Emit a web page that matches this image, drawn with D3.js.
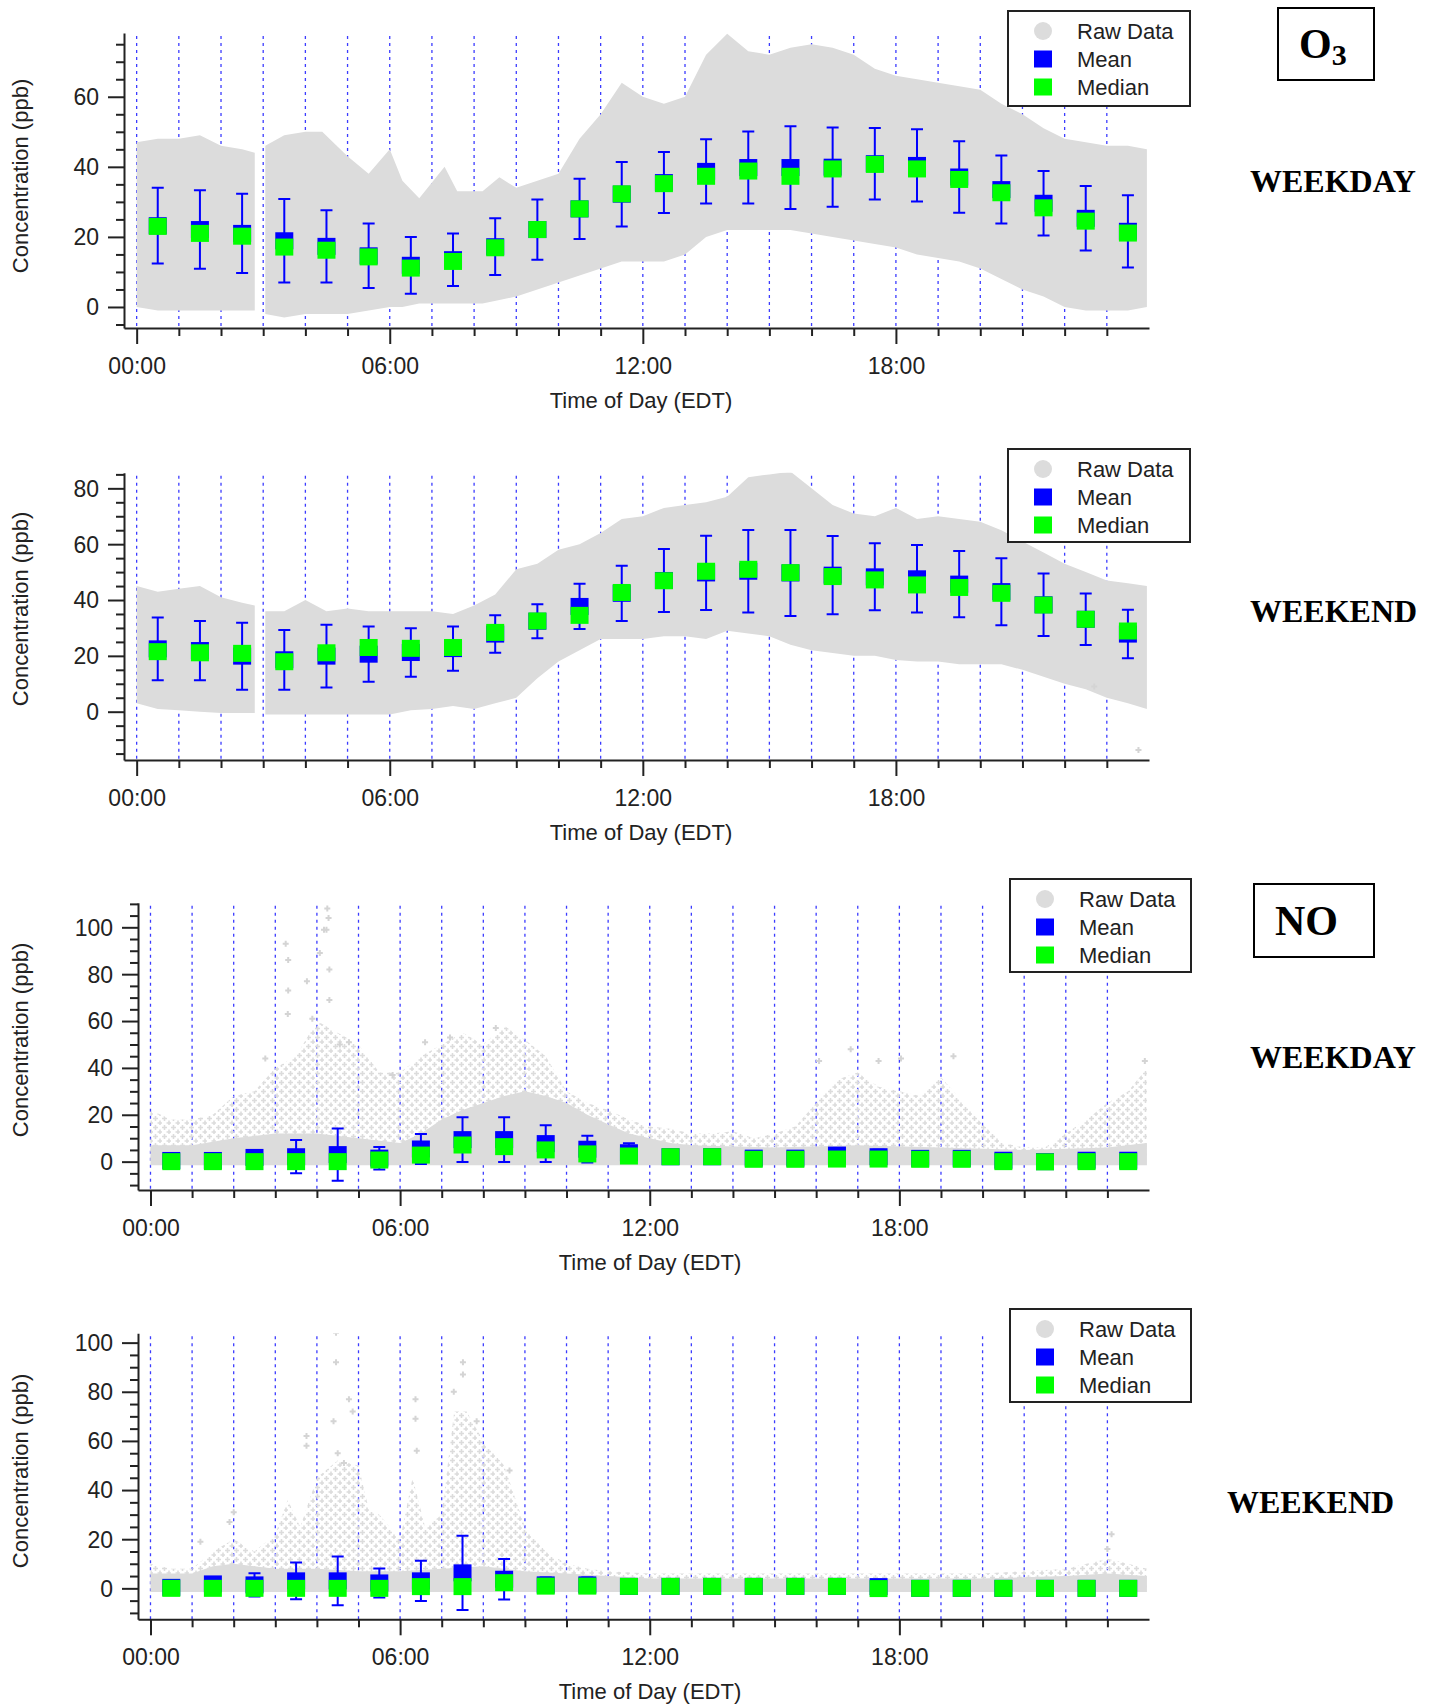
<!DOCTYPE html>
<html>
<head>
<meta charset="utf-8">
<script src="https://cdn.jsdelivr.net/npm/d3@7"></script>
<style>
  body { margin: 0; background: #fff; }
  svg { display: block; font-family: "Liberation Sans", Arial, sans-serif; }
</style>
</head>
<body>
<svg id="chart" width="1434" height="1705"></svg>
<script>
// ---- categories / ticks ----
const boxHours   = [0.5,1.5,2.5,3.5,4.5,5.5,6.5,7.5,8.5,9.5,10.5,11.5,12.5,13.5,14.5,15.5,16.5,17.5,18.5,19.5,20.5,21.5,22.5,23.5];
const hourTicks  = [0,1,2,3,4,5,6,7,8,9,10,11,12,13,14,15,16,17,18,19,20,21,22,23];
const majorHours = [0,6,12,18];
const hourLabels = ["00:00","06:00","12:00","18:00"];

// ---- O3 weekday ----
const o3WdMean   = [23.2,22.1,21.0,18.9,17.3,14.6,11.9,13.5,17.2,22.1,28.0,32.2,35.5,38.7,39.8,39.8,39.9,40.9,40.4,37.1,33.5,29.6,25.3,21.6];
const o3WdMedian = [23.0,21.0,20.2,17.1,16.2,14.3,11.1,13.0,16.9,22.1,28.0,32.3,35.2,37.3,38.8,37.3,39.4,40.7,39.4,36.4,32.6,28.3,24.5,21.1];
const o3WdSd     = [10.8,11.2,11.3,11.9,10.3,9.2,8.1,7.5,8.1,8.6,8.6,9.2,8.7,9.2,10.3,11.8,11.3,10.2,10.3,10.2,9.7,9.2,9.2,10.3];
const o3WdRawT   = [0,0.5,1,1.5,2,2.5,2.8,2.9,3.05,3.5,4,4.4,5,5.5,6,6.3,6.7,7.3,7.6,8.2,8.6,9,9.5,10,10.5,11,11.5,12,12.5,13,13.5,14,14.5,15,15.5,16,16.5,17,17.5,18,18.5,19,19.5,20,20.5,21,21.5,22,22.5,23,23.5,23.95];
const o3WdRawHi  = [47,48,48,49,46,45,44,null,46,49,50,50,43,38,45,36,31,40,33,33,37,34,36,38,48,55,64,60,58,60,72,78,73,72,74,75,74,72,68,66,65,64,63,62,58,55,51,48,47,46,46,45];
const o3WdRawLo  = [0,-1,-1,-1,-1,-1,-1,null,-2,-3,-2,-2,-2,-1,0,0,1,1,1,1,2,3,5,7,9,11,13,13,13,15,20,22,22,22,22,21,20,19,18,17,15,14,13,11,8,5,3,0,-1,-1,-1,0];
const o3WdOutliers = [];

// ---- O3 weekend ----
const o3WeMean   = [22.5,21.9,19.9,18.6,19.9,20.6,21.2,22.6,27.8,32.4,37.7,42.4,47.0,49.7,50.3,49.7,48.9,48.3,47.6,45.7,43.0,38.3,33.1,27.8];
const o3WeMedian = [21.5,21.1,20.9,17.9,21.1,23.0,22.7,23.0,28.4,32.5,34.5,42.7,46.9,50.3,51.0,49.8,48.4,47.2,45.4,44.5,42.4,38.2,33.1,28.9];
const o3WeSd     = [11.2,10.6,12.0,10.7,11.2,9.9,8.7,7.9,6.7,6.1,8.1,9.9,11.3,13.3,14.8,15.4,14.0,12.0,12.1,11.9,12.0,11.2,9.2,8.7];
const o3WeRawT   = [0,0.5,1,1.5,2,2.5,2.8,2.9,3.05,3.5,4,4.5,5,5.5,6,6.5,7,7.5,8,8.5,9,9.5,10,10.5,11,11.5,12,12.5,13,13.5,14,14.5,15,15.5,16,16.5,17,17.5,18,18.5,19,19.5,20,20.5,21,21.5,22,22.5,23,23.5,23.95];
const o3WeRawHi  = [45,43,44,45,41,39,38,null,36,36,40,36,37,36,36,36,36,35,38,42,51,53,58,60,64,69,70,73,74,75,77,84,85,86,80,74,71,70,73,69,70,69,68,65,61,57,53,50,47,46,45];
const o3WeRawLo  = [3,1,0.5,0,-0.5,-0.5,-0.5,null,-1,-1,-1,-1,-1,-1,-1,0.5,1,2,1,3,5,12,18,22,26,26,26,27,27,26,29,28,27,24,22,21,20,20,18.5,18,18,17,17,17,15,12.5,10,8,5,3,1];
const o3WeOutliers = [[23.75,-13.7],[22.7,9]];

// ---- NO weekday ----
const noWdMean   = [0.5,0.5,1.8,2.1,3.0,1.5,5.4,9.4,9.4,7.7,5.3,3.8,2.1,2.1,1.5,1.5,2.8,2.1,1.4,1.4,0.6,0.0,0.6,0.6];
const noWdMedian = [0.0,0.0,0.0,0.0,0.0,0.7,2.8,7.1,6.4,5.0,3.3,2.4,2.1,2.1,1.0,1.0,1.1,1.1,1.0,1.0,0.0,-0.1,0.0,0.0];
const noWdSd     = [2,2,3,7.1,11.1,4.8,6.4,9.5,9.5,7.8,5.7,4.0,2,2,2.5,2.5,3,3,2.5,2.5,2,2,2,2];
const noWdDenseT  = [0,1,2,3,4,5,6,6.5,7,7.5,8,8.5,9,9.5,10,10.5,11,11.5,12,12.5,13,15,17,19,21,23,23.95];
const noWdDenseHi = [7,7,10,12,12,10,8,12,18,22,25,28,30,28,25,20,16,12,10,8,7,6,7,6,5,6,8];
const noWdSparseT  = [0,0.5,1,1.5,2,2.5,3,3.5,4,4.5,5,5.5,6,6.5,7,7.5,8,8.5,9,9.5,10,10.5,11,11.5,12,12.5,13,13.5,14,14.5,15,15.5,16,16.5,17,17.5,18,18.5,19,19.5,20,20.5,21,21.5,22,22.5,23,23.5,23.95];
const noWdSparseHi = [22,18,18,20,28,30,40,45,60,55,50,38,38,45,50,55,50,58,52,45,30,25,22,18,15,14,12,12,13,10,12,15,25,35,38,32,30,28,36,26,16,8,6,6,12,18,25,30,40];
const noWdOutliers = [[3.25,93],[3.31,86],[3.31,73],[3.3,63],[3.76,77],[3.89,61],[4.07,89],[4.17,99],[4.23,99],[4.25,108],[4.28,104],[4.3,82],[4.3,69],[4.55,50],[4.77,51],[2.76,44],[5.82,37],[6.6,51],[7.2,53],[8.3,57],[16.07,43],[16.83,48],[17.5,43],[18.04,44],[19.3,45],[23.9,43]];

// ---- NO weekend ----
const noWeMean   = [0.4,1.8,1.4,3.05,3.05,2.2,3.05,6.3,3.7,1.4,1.4,0.8,0.8,0.8,0.8,0.8,0.8,0.7,0.0,0.0,0.0,0.0,0.0,0.0];
const noWeMedian = [0.0,0.0,0.0,0.0,0.0,0.0,0.7,0.7,2.3,0.9,0.9,0.8,0.8,0.8,0.8,0.8,0.8,-0.1,0.0,0.0,0.0,0.0,0.0,0.0];
const noWeSd     = [2,2.5,4.7,7.5,9.9,5.9,8.2,15.1,8.2,3,3,2,2,2,2,2,2,2,2,2,2,2,2,2];
const noWeDenseT  = [0,1,1.5,2,2.5,3,4,5,6,7,8,9,10,11,12,14,16,18,20,22,23,23.95];
const noWeDenseHi = [6,6,9,10,9,8,8,7,7,8,9,7,6,5,4,4,4,4,4,5,6,5];
const noWeSparseT  = [0,0.5,1,1.5,2,2.5,3,3.3,3.6,4,4.5,5,5.25,5.5,6,6.3,6.6,7,7.3,7.6,8,8.5,9,9.5,10,10.5,11,12,14,16,18,20,21,22,22.5,23,23.5,23.95];
const noWeSparseHi = [10,8,8,15,20,15,22,36,25,45,52,50,32,30,20,45,25,30,72,72,60,50,25,15,10,8,7,6,6,6,6,6,7,8,10,12,10,8];
const noWeOutliers = [[4.46,104],[4.46,92],[4.77,77],[4.86,72],[4.4,68],[3.75,62],[3.75,58],[4.5,55],[4.65,51],[6.37,77],[6.37,69],[6.4,56],[7.51,92],[7.29,80],[7.51,87],[7.84,68],[8.63,48],[1.2,19],[1.9,27],[2.0,31],[23.1,22],[23.0,16]];

// ---- layout ----
const RIGHT = 1149;
const GRAY = "#dcdcdc", BLUE = "#0000ff", GREEN = "#00ff00", INK = "#222";

const panels = [
  { mean:o3WdMean, median:o3WdMedian, sd:o3WdSd,
    raw:{t:o3WdRawT, lo:o3WdRawLo, hi:o3WdRawHi}, outliers:o3WdOutliers,
    left:124, top:33, bottom:328, yDomain:[-6.0,78.2], yMajor:[0,20,40,60],
    yTitleY:176, titleX:641, legend:{x:1008,y:11,w:182,h:95}, side:{text:"WEEKDAY",x:1250,y:192} },
  { mean:o3WeMean, median:o3WeMedian, sd:o3WeSd,
    raw:{t:o3WeRawT, lo:o3WeRawLo, hi:o3WeRawHi}, outliers:o3WeOutliers,
    left:124, top:472.7, bottom:760, yDomain:[-17.3,85.6], yMajor:[0,20,40,60,80],
    yTitleY:609, titleX:641, legend:{x:1008,y:449,w:182,h:93}, side:{text:"WEEKEND",x:1250,y:622} },
  { mean:noWdMean, median:noWdMedian, sd:noWdSd,
    dense:{t:noWdDenseT, hi:noWdDenseHi}, sparse:{t:noWdSparseT, hi:noWdSparseHi}, outliers:noWdOutliers,
    left:138, top:902.7, bottom:1190, yDomain:[-12.1,110.5], yMajor:[0,20,40,60,80,100],
    yTitleY:1040, titleX:650, legend:{x:1010,y:879,w:181,h:93}, side:{text:"WEEKDAY",x:1250,y:1068} },
  { mean:noWeMean, median:noWeMedian, sd:noWeSd,
    dense:{t:noWeDenseT, hi:noWeDenseHi}, sparse:{t:noWeSparseT, hi:noWeSparseHi}, outliers:noWeOutliers,
    left:138, top:1333.3, bottom:1619.3, yDomain:[-12.6,103.8], yMajor:[0,20,40,60,80,100],
    yTitleY:1471, titleX:650, legend:{x:1010,y:1309,w:181,h:93}, side:{text:"WEEKEND",x:1227,y:1513} }
];

const svg = d3.select("#chart");
const defs = svg.append("defs");

// texture for the scattered raw points
const pat = defs.append("pattern")
  .attr("id", "scatter")
  .attr("width", 9).attr("height", 9)
  .attr("patternUnits", "userSpaceOnUse");
pat.append("path")
  .attr("d", "M0,2.5h5M2.5,0v5M4.5,7h5M7,4.5v5")
  .attr("stroke", GRAY).attr("stroke-width", 1.6);

panels.forEach((p, pi) => drawPanel(p, pi));

function drawPanel(p, pi) {
  const x = d3.scaleLinear().domain([-0.3, 24.0]).range([p.left, RIGHT]);
  const y = d3.scaleLinear().domain(p.yDomain).range([p.bottom, p.top]);
  const g = svg.append("g");

  defs.append("clipPath").attr("id", "clip" + pi)
    .append("rect")
    .attr("x", p.left + 1).attr("y", p.top)
    .attr("width", RIGHT - p.left).attr("height", p.bottom - p.top - 1);

  // hourly dotted guide lines
  g.append("g").selectAll("line").data(hourTicks).join("line")
    .attr("x1", d => x(d)).attr("x2", d => x(d))
    .attr("y1", p.top + 3).attr("y2", p.bottom)
    .attr("stroke", "#3c3cff").attr("stroke-width", 1.3)
    .attr("stroke-dasharray", "3,4");

  const rawG = g.append("g").attr("clip-path", `url(#clip${pi})`);

  if (p.raw) {
    const rows = p.raw.t.map((t, i) => ({ t, lo: p.raw.lo[i], hi: p.raw.hi[i] }));
    rawG.append("path")
      .datum(rows)
      .attr("fill", GRAY)
      .attr("d", d3.area().defined(d => d.hi != null)
        .x(d => x(d.t)).y0(d => y(d.lo)).y1(d => y(d.hi)));
  }
  if (p.sparse) {
    const rows = p.sparse.t.map((t, i) => ({ t, hi: p.sparse.hi[i] }));
    rawG.append("path")
      .datum(rows)
      .attr("fill", "url(#scatter)")
      .attr("d", d3.area().x(d => x(d.t)).y0(y(0)).y1(d => y(d.hi)));
  }
  if (p.dense) {
    const rows = p.dense.t.map((t, i) => ({ t, hi: p.dense.hi[i] }));
    rawG.append("path")
      .datum(rows)
      .attr("fill", GRAY)
      .attr("d", d3.area().x(d => x(d.t)).y0(y(-1.5)).y1(d => y(d.hi)));
  }
  rawG.append("g").selectAll("path").data(p.outliers).join("path")
    .attr("d", d => `M${x(d[0]) - 3},${y(d[1])}h6M${x(d[0])},${y(d[1]) - 3}v6`)
    .attr("stroke", "#d4d4d4").attr("stroke-width", 2);

  // axes
  const yMinor = d3.range(Math.ceil(p.yDomain[0] / 5) * 5, p.yDomain[1], 5);
  const yAxis = d3.axisLeft(y).tickValues(yMinor).tickSize(8).tickSizeOuter(0)
    .tickFormat(v => p.yMajor.includes(v) ? v : "");
  const yG = g.append("g").attr("transform", `translate(${p.left},0)`).call(yAxis);
  styleAxis(yG);
  yG.selectAll(".tick line").filter(v => p.yMajor.includes(v)).attr("x2", -16);
  yG.selectAll(".tick text").attr("x", -25).attr("dy", "0.34em");

  const xAxis = d3.axisBottom(x).tickValues(hourTicks).tickSize(8).tickSizeOuter(0)
    .tickFormat(h => { const k = majorHours.indexOf(h); return k >= 0 ? hourLabels[k] : ""; });
  const xG = g.append("g").attr("transform", `translate(0,${p.bottom})`).call(xAxis);
  styleAxis(xG);
  xG.selectAll(".tick line").filter(h => majorHours.includes(h)).attr("y2", 16);
  xG.selectAll(".tick text").attr("y", 46).attr("dy", 0);

  // axis titles
  g.append("text")
    .attr("x", p.titleX).attr("y", p.bottom + 80)
    .attr("text-anchor", "middle").attr("font-size", 22).attr("fill", INK)
    .text("Time of Day (EDT)");
  g.append("text")
    .attr("transform", `translate(28,${p.yTitleY}) rotate(-90)`)
    .attr("text-anchor", "middle").attr("font-size", 22).attr("fill", INK)
    .text("Concentration (ppb)");

  // error bars, mean and median markers
  const rows = boxHours.map((h, i) => ({ h, mean: p.mean[i], median: p.median[i], sd: p.sd[i] }));
  const bars = g.append("g");
  bars.selectAll("path").data(rows).join("path")
    .attr("d", d => {
      const cx = x(d.h), t = y(d.mean + d.sd), b = y(d.mean - d.sd);
      return `M${cx},${t}V${b}M${cx - 6},${t}h12M${cx - 6},${b}h12`;
    })
    .attr("stroke", BLUE).attr("stroke-width", 2).attr("fill", "none");
  g.append("g").selectAll("rect").data(rows).join("rect")
    .attr("x", d => x(d.h) - 9).attr("y", d => y(d.mean) - 8.5)
    .attr("width", 18).attr("height", 17).attr("fill", BLUE);
  g.append("g").selectAll("rect").data(rows).join("rect")
    .attr("x", d => x(d.h) - 9).attr("y", d => y(d.median) - 8.5)
    .attr("width", 18).attr("height", 17).attr("fill", GREEN);

  // legend
  const L = p.legend;
  const lg = g.append("g").attr("transform", `translate(${L.x},${L.y})`);
  lg.append("rect").attr("width", L.w).attr("height", L.h)
    .attr("fill", "#fff").attr("stroke", INK).attr("stroke-width", 2);
  const items = [["Raw Data", "circle"], ["Mean", BLUE], ["Median", GREEN]];
  items.forEach(([label, kind], i) => {
    const cy = 20 + i * 28;
    if (kind === "circle") {
      lg.append("circle").attr("cx", 35).attr("cy", cy).attr("r", 9).attr("fill", GRAY);
    } else {
      lg.append("rect").attr("x", 26).attr("y", cy - 8.5).attr("width", 18).attr("height", 17).attr("fill", kind);
    }
    lg.append("text").attr("x", 69).attr("y", cy + 8)
      .attr("font-size", 22).attr("fill", INK).text(label);
  });

  // side label
  svg.append("text")
    .attr("x", p.side.x).attr("y", p.side.y)
    .attr("font-family", "'Liberation Serif', 'Times New Roman', serif")
    .attr("font-weight", "bold").attr("font-size", 32).attr("fill", "#000")
    .text(p.side.text);
}

function styleAxis(ax) {
  ax.attr("font-size", 23).attr("font-family", null);
  ax.select(".domain").attr("stroke", INK).attr("stroke-width", 2);
  ax.selectAll(".tick line").attr("stroke", INK).attr("stroke-width", 2);
  ax.selectAll(".tick text").attr("fill", INK);
}

// species boxes
const speciesBoxes = [
  { x: 1278, y: 8, w: 96, h: 72, main: "O", sub: "3", tx: 1299, ty: 58 },
  { x: 1254, y: 884, w: 120, h: 73, main: "NO", sub: "", tx: 1275, ty: 935 }
];
speciesBoxes.forEach(b => {
  svg.append("rect").attr("x", b.x).attr("y", b.y).attr("width", b.w).attr("height", b.h)
    .attr("fill", "none").attr("stroke", "#000").attr("stroke-width", 2);
  const t = svg.append("text").attr("x", b.tx).attr("y", b.ty)
    .attr("font-family", "'Liberation Serif', 'Times New Roman', serif")
    .attr("font-weight", "bold").attr("font-size", 42).attr("fill", "#000");
  t.append("tspan").text(b.main);
  if (b.sub) t.append("tspan").attr("font-size", 30).attr("dy", 7).text(b.sub);
});
</script>
</body>
</html>
